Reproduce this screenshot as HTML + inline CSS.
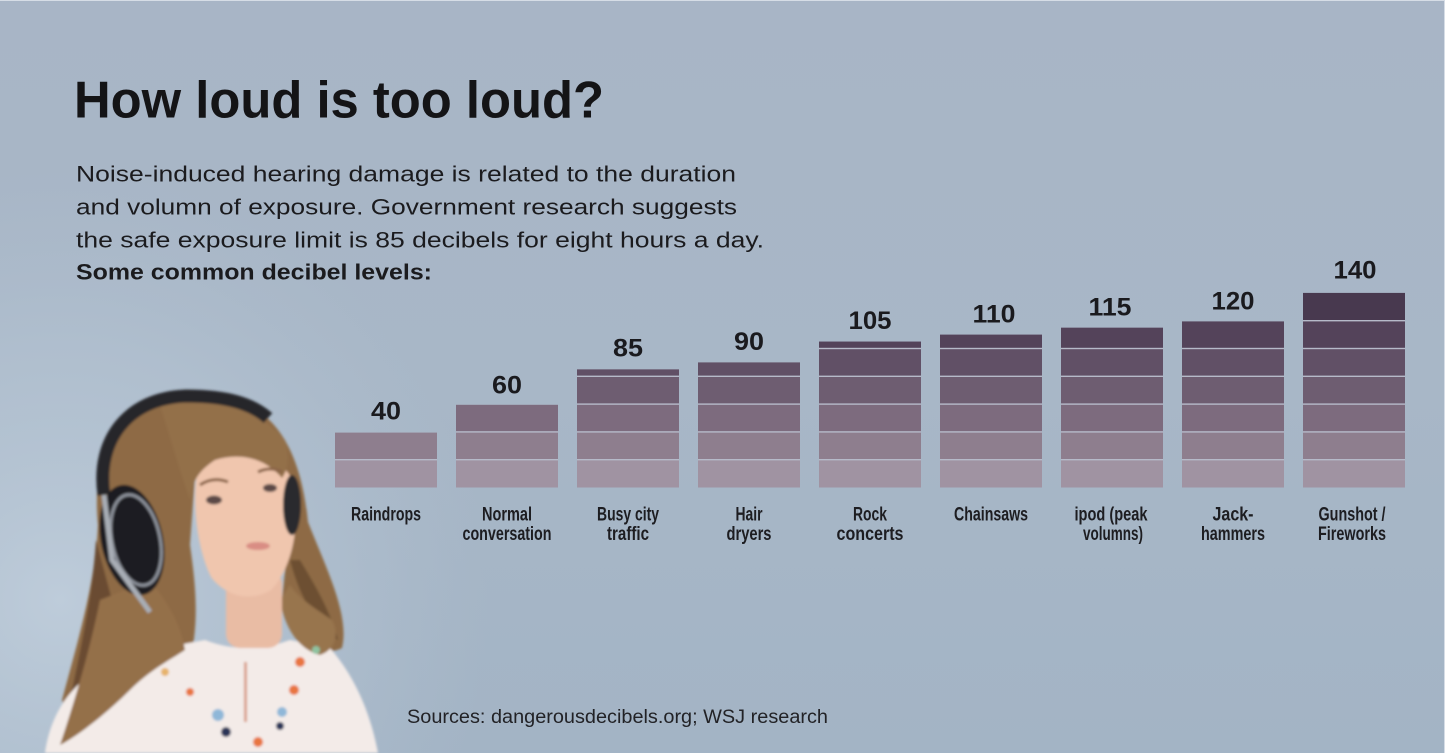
<!DOCTYPE html>
<html>
<head>
<meta charset="utf-8">
<style>
  html, body { margin: 0; padding: 0; background: #a8b6c6; }
  svg { display: block; }
</style>
</head>
<body>
<svg width="1445" height="753" viewBox="0 0 1445 753" xmlns="http://www.w3.org/2000/svg">
  <defs>
    <linearGradient id="bg" x1="0" y1="0" x2="0" y2="1">
      <stop offset="0" stop-color="#a8b5c6"/>
      <stop offset="0.5" stop-color="#a8b7c7"/>
      <stop offset="1" stop-color="#a3b4c5"/>
    </linearGradient>
    <radialGradient id="glow" cx="60" cy="600" r="430" gradientUnits="userSpaceOnUse">
      <stop offset="0" stop-color="#bfcddb" stop-opacity="0.95"/>
      <stop offset="0.6" stop-color="#b6c5d4" stop-opacity="0.5"/>
      <stop offset="1" stop-color="#b0bfcf" stop-opacity="0"/>
    </radialGradient>
    <filter id="soft" x="-10%" y="-10%" width="120%" height="120%">
      <feGaussianBlur stdDeviation="1.2"/>
    </filter>
  </defs>

  <!-- background -->
  <rect x="0" y="0" width="1445" height="753" fill="url(#bg)"/>
  <rect x="0" y="0" width="1445" height="753" fill="url(#glow)"/>
  <rect x="0" y="0" width="1445" height="1" fill="#d6dde6"/>
  <rect x="1444" y="0" width="1" height="753" fill="#d6dde6"/>

  <!-- girl illustration (approximation) -->
  <g filter="url(#soft)">
    <path d="M150,402 C110,412 92,465 98,525 C95,585 78,640 62,700 C70,730 90,740 120,720 C150,700 175,690 190,660 C200,620 195,580 190,545 L196,462 C232,442 270,452 284,472 C292,520 286,560 282,600 C292,640 318,660 342,648 C350,615 326,568 308,522 C302,462 282,412 232,399 Z" fill="#8e6a45"/>
    <path d="M96,540 C92,600 80,650 70,700 C88,690 105,650 112,600 Z" fill="#6a4c30"/>
    <path d="M290,560 C300,600 320,630 338,640 C330,610 315,585 300,560 Z" fill="#6d4f33"/>
    <path d="M45,753 C52,705 80,668 140,652 L205,640 Q246,656 290,640 L330,648 C358,680 372,720 378,753 Z" fill="#f3ebe8"/>
    <path d="M100,600 C90,650 75,700 60,745 C80,735 110,710 130,690 C150,670 170,660 185,650 C180,620 165,600 150,580 Z" fill="#94704a"/>
    <path d="M280,600 C285,630 300,650 320,655 C335,650 340,635 332,620 C318,610 300,600 290,585 Z" fill="#98744d"/>
    <rect x="226" y="570" width="56" height="78" rx="14" fill="#e9bca4"/>
    <path d="M200,462 C230,442 282,452 293,482 C301,522 293,568 271,590 C251,602 226,597 211,577 C196,547 190,492 200,462 Z" fill="#f0c6ae"/>
    <path d="M160,405 C200,395 250,400 285,440 C290,455 288,470 282,478 C265,458 240,452 215,460 C200,470 192,480 190,500 L180,470 Z" fill="#93704a"/>
    <ellipse cx="214" cy="500" rx="8" ry="4.5" fill="#5b4a46"/>
    <ellipse cx="270" cy="488" rx="7" ry="4" fill="#5b4a46"/>
    <path d="M200,485 Q213,476 228,482" stroke="#8a6447" stroke-width="3" fill="none"/>
    <path d="M258,472 Q270,466 282,472" stroke="#8a6447" stroke-width="3" fill="none"/>
    <ellipse cx="258" cy="546" rx="12" ry="4" fill="#d98d84"/>
    <path d="M104,495 C96,440 128,398 186,396 C228,396 252,404 268,418" stroke="#26262a" stroke-width="13" fill="none"/>
    <ellipse cx="132" cy="540" rx="31" ry="56" transform="rotate(-12 132 540)" fill="#1d1d21"/>
    <ellipse cx="136" cy="540" rx="24" ry="46" transform="rotate(-12 136 540)" fill="none" stroke="#8d929b" stroke-width="3"/>
    <path d="M104,495 L112,560 L150,612" stroke="#a9aeb6" stroke-width="5" fill="none"/>
    <ellipse cx="292" cy="505" rx="9" ry="30" fill="#2a2a2e"/>
    <circle cx="300" cy="662" r="5" fill="#e8743f"/>
    <circle cx="294" cy="690" r="5" fill="#e8743f"/>
    <circle cx="316" cy="650" r="4" fill="#8fc3a0"/>
    <circle cx="218" cy="715" r="6" fill="#8fb7d8"/>
    <circle cx="226" cy="732" r="5" fill="#2c3658"/>
    <circle cx="282" cy="712" r="5" fill="#8fb7d8"/>
    <circle cx="280" cy="726" r="4" fill="#2c3658"/>
    <circle cx="258" cy="742" r="5" fill="#e8743f"/>
    <circle cx="190" cy="692" r="4" fill="#e8743f"/>
    <circle cx="165" cy="672" r="4" fill="#e6b36a"/>
    <rect x="244" y="662" width="3" height="60" fill="#d9a08c"/>
  </g>

  <!-- title & text -->
  <g font-family="'Liberation Sans', Arial, sans-serif" fill="#1b1b1e">
    <text x="74" y="117.3" font-size="52" font-weight="bold" fill="#141416" textLength="530" lengthAdjust="spacingAndGlyphs">How loud is too loud?</text>
    <text x="76" y="181.5" font-size="22" textLength="660" lengthAdjust="spacingAndGlyphs">Noise-induced hearing damage is related to the duration</text>
    <text x="76" y="214.5" font-size="22" textLength="661" lengthAdjust="spacingAndGlyphs">and volumn of exposure. Government research suggests</text>
    <text x="76" y="247.3" font-size="22" textLength="688" lengthAdjust="spacingAndGlyphs">the safe exposure limit is 85 decibels for eight hours a day.</text>
    <text x="76" y="279.5" font-size="22" font-weight="bold" textLength="356" lengthAdjust="spacingAndGlyphs">Some common decibel levels:</text>
    <text x="407" y="723" font-size="19" fill="#222226" textLength="421" lengthAdjust="spacingAndGlyphs">Sources: dangerousdecibels.org; WSJ research</text>
  </g>

  <!-- bars -->
  <!-- 40 -->
  <g transform="translate(335,0)">
    <rect x="0" y="432.6" width="102" height="54.9" fill="#b6bac9"/>
    <rect x="0" y="460.4" width="102" height="27.1" fill="#a093a2"/>
    <rect x="0" y="432.6" width="102" height="26.4" fill="#8e7e8e"/>
  </g>
  <!-- 60 -->
  <g transform="translate(456,0)">
    <rect x="0" y="404.8" width="102" height="82.7" fill="#b6bac9"/>
    <rect x="0" y="460.4" width="102" height="27.1" fill="#a093a2"/>
    <rect x="0" y="432.6" width="102" height="26.4" fill="#8e7e8e"/>
    <rect x="0" y="404.8" width="102" height="26.4" fill="#7d6b7e"/>
  </g>
  <!-- 85 -->
  <g transform="translate(577,0)">
    <rect x="0" y="369.35" width="102" height="118.15" fill="#b6bac9"/>
    <rect x="0" y="460.4" width="102" height="27.1" fill="#a093a2"/>
    <rect x="0" y="432.6" width="102" height="26.4" fill="#8e7e8e"/>
    <rect x="0" y="404.8" width="102" height="26.4" fill="#7d6b7e"/>
    <rect x="0" y="377.0" width="102" height="26.4" fill="#6e5d71"/>
    <rect x="0" y="369.35" width="102" height="6.25" fill="#615066"/>
  </g>
  <!-- 90 -->
  <g transform="translate(698,0)">
    <rect x="0" y="362.4" width="102" height="125.1" fill="#b6bac9"/>
    <rect x="0" y="460.4" width="102" height="27.1" fill="#a093a2"/>
    <rect x="0" y="432.6" width="102" height="26.4" fill="#8e7e8e"/>
    <rect x="0" y="404.8" width="102" height="26.4" fill="#7d6b7e"/>
    <rect x="0" y="377.0" width="102" height="26.4" fill="#6e5d71"/>
    <rect x="0" y="362.4" width="102" height="13.2" fill="#615066"/>
  </g>
  <!-- 105 -->
  <g transform="translate(819,0)">
    <rect x="0" y="341.55" width="102" height="145.95" fill="#b6bac9"/>
    <rect x="0" y="460.4" width="102" height="27.1" fill="#a093a2"/>
    <rect x="0" y="432.6" width="102" height="26.4" fill="#8e7e8e"/>
    <rect x="0" y="404.8" width="102" height="26.4" fill="#7d6b7e"/>
    <rect x="0" y="377.0" width="102" height="26.4" fill="#6e5d71"/>
    <rect x="0" y="349.2" width="102" height="26.4" fill="#615066"/>
    <rect x="0" y="341.55" width="102" height="6.25" fill="#54435a"/>
  </g>
  <!-- 110 -->
  <g transform="translate(940,0)">
    <rect x="0" y="334.6" width="102" height="152.9" fill="#b6bac9"/>
    <rect x="0" y="460.4" width="102" height="27.1" fill="#a093a2"/>
    <rect x="0" y="432.6" width="102" height="26.4" fill="#8e7e8e"/>
    <rect x="0" y="404.8" width="102" height="26.4" fill="#7d6b7e"/>
    <rect x="0" y="377.0" width="102" height="26.4" fill="#6e5d71"/>
    <rect x="0" y="349.2" width="102" height="26.4" fill="#615066"/>
    <rect x="0" y="334.6" width="102" height="13.2" fill="#54435a"/>
  </g>
  <!-- 115 -->
  <g transform="translate(1061,0)">
    <rect x="0" y="327.65" width="102" height="159.85" fill="#b6bac9"/>
    <rect x="0" y="460.4" width="102" height="27.1" fill="#a093a2"/>
    <rect x="0" y="432.6" width="102" height="26.4" fill="#8e7e8e"/>
    <rect x="0" y="404.8" width="102" height="26.4" fill="#7d6b7e"/>
    <rect x="0" y="377.0" width="102" height="26.4" fill="#6e5d71"/>
    <rect x="0" y="349.2" width="102" height="26.4" fill="#615066"/>
    <rect x="0" y="327.65" width="102" height="20.15" fill="#54435a"/>
  </g>
  <!-- 120 -->
  <g transform="translate(1182,0)">
    <rect x="0" y="321.4" width="102" height="166.1" fill="#b6bac9"/>
    <rect x="0" y="460.4" width="102" height="27.1" fill="#a093a2"/>
    <rect x="0" y="432.6" width="102" height="26.4" fill="#8e7e8e"/>
    <rect x="0" y="404.8" width="102" height="26.4" fill="#7d6b7e"/>
    <rect x="0" y="377.0" width="102" height="26.4" fill="#6e5d71"/>
    <rect x="0" y="349.2" width="102" height="26.4" fill="#615066"/>
    <rect x="0" y="321.4" width="102" height="26.4" fill="#54435a"/>
  </g>
  <!-- 140 -->
  <g transform="translate(1303,0)">
    <rect x="0" y="292.9" width="102" height="194.6" fill="#b6bac9"/>
    <rect x="0" y="460.4" width="102" height="27.1" fill="#a093a2"/>
    <rect x="0" y="432.6" width="102" height="26.4" fill="#8e7e8e"/>
    <rect x="0" y="404.8" width="102" height="26.4" fill="#7d6b7e"/>
    <rect x="0" y="377.0" width="102" height="26.4" fill="#6e5d71"/>
    <rect x="0" y="349.2" width="102" height="26.4" fill="#615066"/>
    <rect x="0" y="321.4" width="102" height="26.4" fill="#54435a"/>
    <rect x="0" y="292.9" width="102" height="27.1" fill="#48394f"/>
  </g>

  <!-- value labels -->
  <g font-family="'Liberation Sans', Arial, sans-serif" font-size="25" font-weight="bold" fill="#1a1a1e" text-anchor="middle">
    <text x="386" y="419.3" textLength="30" lengthAdjust="spacingAndGlyphs">40</text>
    <text x="507" y="393.3" textLength="30" lengthAdjust="spacingAndGlyphs">60</text>
    <text x="628" y="356.5" textLength="30" lengthAdjust="spacingAndGlyphs">85</text>
    <text x="749" y="350" textLength="30" lengthAdjust="spacingAndGlyphs">90</text>
    <text x="870" y="329" textLength="43" lengthAdjust="spacingAndGlyphs">105</text>
    <text x="994" y="322.5" textLength="43" lengthAdjust="spacingAndGlyphs">110</text>
    <text x="1110" y="315.7" textLength="43" lengthAdjust="spacingAndGlyphs">115</text>
    <text x="1233" y="309.3" textLength="43" lengthAdjust="spacingAndGlyphs">120</text>
    <text x="1355" y="278.5" textLength="43" lengthAdjust="spacingAndGlyphs">140</text>
  </g>

  <!-- category labels -->
  <g font-family="'Liberation Sans Narrow', 'Liberation Sans', Arial, sans-serif" font-size="19" font-weight="bold" fill="#1d1d21" text-anchor="middle">
    <text x="386" y="520.7" textLength="70" lengthAdjust="spacingAndGlyphs">Raindrops</text>
    <text x="507" y="520.7" textLength="50" lengthAdjust="spacingAndGlyphs">Normal</text>
    <text x="507" y="540" textLength="89" lengthAdjust="spacingAndGlyphs">conversation</text>
    <text x="628" y="520.7" textLength="62" lengthAdjust="spacingAndGlyphs">Busy city</text>
    <text x="628" y="540" textLength="42" lengthAdjust="spacingAndGlyphs">traffic</text>
    <text x="749" y="520.7" textLength="27" lengthAdjust="spacingAndGlyphs">Hair</text>
    <text x="749" y="540" textLength="45" lengthAdjust="spacingAndGlyphs">dryers</text>
    <text x="870" y="520.7" textLength="34" lengthAdjust="spacingAndGlyphs">Rock</text>
    <text x="870" y="540" textLength="67" lengthAdjust="spacingAndGlyphs">concerts</text>
    <text x="991" y="520.7" textLength="74" lengthAdjust="spacingAndGlyphs">Chainsaws</text>
    <text x="1111" y="520.7" textLength="73" lengthAdjust="spacingAndGlyphs">ipod (peak</text>
    <text x="1113" y="540" textLength="60" lengthAdjust="spacingAndGlyphs">volumns)</text>
    <text x="1233" y="520.7" textLength="41" lengthAdjust="spacingAndGlyphs">Jack-</text>
    <text x="1233" y="540" textLength="64" lengthAdjust="spacingAndGlyphs">hammers</text>
    <text x="1352" y="520.7" textLength="67" lengthAdjust="spacingAndGlyphs">Gunshot /</text>
    <text x="1352" y="540" textLength="68" lengthAdjust="spacingAndGlyphs">Fireworks</text>
  </g>
</svg>
</body>
</html>
